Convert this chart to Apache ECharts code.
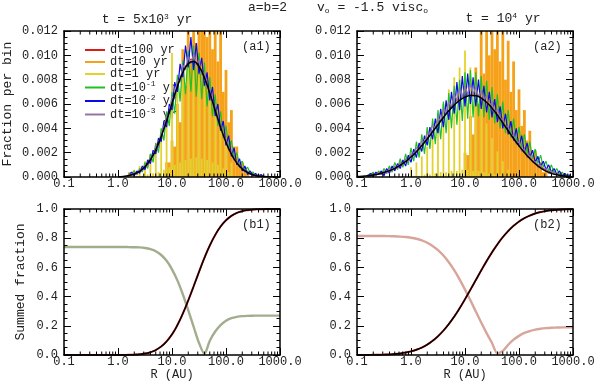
<!DOCTYPE html>
<html lang="en">
<head>
<meta charset="UTF-8">
<title>Fraction per bin</title>
<script src="https://cdn.jsdelivr.net/npm/echarts@6/dist/echarts.min.js"></script>
<style>
  body { margin: 0; background: #fff; }
  #chart { width: 600px; height: 382px; }
</style>
</head>
<body>
<div id="chart"></div>
<script>
// histogram bins are 0.05 dex wide in log10(R), smooth curves sampled every 0.1 dex
const binStep = 0.05;
const curveStep = 0.1;

const seriesNames = ['dt=100 yr', 'dt=10 yr', 'dt=1 yr', 'dt=10^-1 yr', 'dt=10^-2 yr', 'dt=10^-3 yr'];
const seriesColors = ['#e01818', '#f5a21a', '#e4d22c', '#22c022', '#0a0ae6', '#9474a4'];

// ---- panel a1 (t = 5x10^3 yr) ----
const a1LineStart = 0.2;
const a1Red = [0.0001,0.0002,0.0003,0.0003,0.0005,0.0006,0.0009,0.0011,0.0015,0.0018,
  0.0023,0.0028,0.0034,0.0040,0.0047,0.0054,0.0061,0.0068,0.0075,0.0081,
  0.0087,0.0091,0.0094,0.0097,0.0096,0.0094,0.0092,0.0087,0.0083,0.0076,
  0.0070,0.0062,0.0055,0.0048,0.0041,0.0035,0.0029,0.0023,0.0019,0.0015,
  0.0012,0.0009,0.0007,0.0005,0.0004,0.0003,0.0002,0.0001,0.0001,0.0001,0.0000];
const a1Green = [0.0001,0.0003,0.0005,0.0002,0.0007,0.0004,0.0012,0.0007,0.0019,0.0012,
  0.0028,0.0020,0.0040,0.0030,0.0054,0.0042,0.0070,0.0052,0.0084,0.0062,
  0.0096,0.0068,0.0104,0.0070,0.0108,0.0066,0.0102,0.0064,0.0094,0.0058,
  0.0082,0.0050,0.0068,0.0042,0.0054,0.0032,0.0042,0.0024,0.0030,0.0016,
  0.0020,0.0010,0.0013,0.0006,0.0008,0.0003,0.0004,0.0001,0.0002,0.0000,0.0001];
const a1Blue = [0.0002,0.0004,0.0001,0.0005,0.0003,0.0009,0.0006,0.0014,0.0011,0.0022,
  0.0019,0.0032,0.0029,0.0046,0.0041,0.0060,0.0055,0.0078,0.0070,0.0093,
  0.0082,0.0108,0.0090,0.0115,0.0088,0.0110,0.0085,0.0098,0.0075,0.0086,
  0.0063,0.0074,0.0050,0.0060,0.0038,0.0046,0.0026,0.0034,0.0017,0.0024,
  0.0010,0.0015,0.0005,0.0009,0.0002,0.0005,0.0001,0.0003,0.0000,0.0002,0.0000];
const a1Purple = [0.0003,0.0001,0.0004,0.0002,0.0006,0.0005,0.0010,0.0009,0.0016,0.0017,
  0.0026,0.0024,0.0036,0.0041,0.0050,0.0052,0.0066,0.0064,0.0080,0.0078,
  0.0092,0.0088,0.0099,0.0093,0.0101,0.0092,0.0096,0.0084,0.0086,0.0073,
  0.0072,0.0059,0.0058,0.0046,0.0043,0.0033,0.0031,0.0022,0.0021,0.0014,
  0.0013,0.0008,0.0008,0.0004,0.0005,0.0002,0.0003,0.0001,0.0002,0.0000,0.0001];
const a1YellowStart = 0.2;
const a1Yellow = [0.0004,0.0000,0.0006,0.0001,0.0009,0.0001,0.0013,0.0002,0.0019,0.0003,
  0.0027,0.0004,0.0036,0.0006,0.0046,0.0008,0.0102,0.0010,0.0074,0.0012,
  0.0082,0.0014,0.0104,0.0015,0.0087,0.0016,0.0084,0.0015,0.0074,0.0014,
  0.0066,0.0012,0.0052,0.0010,0.0040,0.0007,0.0026,0.0004,0.0012];
const a1OrangeStart = 0.9;
const a1Orange = [0.0012,0.0012,0.0030,0.0025,0.0060,0.0045,0.0105,0.0075,0.0140,0.0095,
  0.0170,0.0110,0.0185,0.0120,0.0190,0.0115,0.0180,0.0105,0.0160,0.0095,
  0.0140,0.0070,0.0088,0.0045,0.0055,0.0025,0.0025,0.0012,0.0012,0.0005,0.0004];
const a1CurveStart = 0.0;
const a1Model = [0.00002,0.00005,0.00012,0.00025,0.00047,0.00085,0.00142,0.00224,0.00332,0.00462,
  0.00605,0.00744,0.00859,0.00931,0.00949,0.00908,0.00817,0.0069,0.00548,0.00408,
  0.00286,0.00188,0.00116,0.00067,0.00037,0.00018,0.00009,0.00004,0.00002,0.00001,0];

// ---- panel a2 (t = 10^4 yr) ----
const a2LineStart = -0.8;
const a2Red = [0.0002,0.0001,0.0002,0.0002,0.0003,0.0003,0.0004,0.0004,0.0005,0.0006,
  0.0007,0.0008,0.0010,0.0011,0.0013,0.0015,0.0017,0.0019,0.0021,0.0024,
  0.0026,0.0029,0.0032,0.0035,0.0038,0.0041,0.0044,0.0047,0.0050,0.0053,
  0.0056,0.0058,0.0061,0.0063,0.0065,0.0066,0.0067,0.0068,0.0069,0.0068,
  0.0068,0.0067,0.0066,0.0064,0.0062,0.0060,0.0057,0.0054,0.0051,0.0048,
  0.0045,0.0041,0.0038,0.0035,0.0032,0.0029,0.0026,0.0023,0.0020,0.0018,
  0.0016,0.0014,0.0012,0.0010,0.0009,0.0007,0.0006,0.0005,0.0004,0.0004,
  0.0003,0.0002,0.0002,0.0001,0.0001,0.0001];
const a2Green = [0.0000,0.0002,0.0004,0.0001,0.0005,0.0002,0.0007,0.0003,0.0009,0.0004,
  0.0012,0.0006,0.0015,0.0008,0.0019,0.0010,0.0024,0.0013,0.0029,0.0016,
  0.0035,0.0019,0.0041,0.0023,0.0048,0.0027,0.0055,0.0031,0.0062,0.0036,
  0.0069,0.0040,0.0075,0.0043,0.0080,0.0046,0.0086,0.0048,0.0088,0.0049,
  0.0086,0.0050,0.0083,0.0049,0.0079,0.0047,0.0074,0.0044,0.0068,0.0040,
  0.0062,0.0036,0.0055,0.0032,0.0048,0.0028,0.0041,0.0024,0.0035,0.0019,
  0.0029,0.0015,0.0023,0.0011,0.0018,0.0008,0.0013,0.0005,0.0010,0.0003,
  0.0007,0.0002,0.0004,0.0001,0.0002,0.0000];
const a2Blue = [0.0001,0.0003,0.0000,0.0004,0.0002,0.0005,0.0001,0.0007,0.0003,0.0009,
  0.0005,0.0011,0.0007,0.0014,0.0009,0.0018,0.0012,0.0023,0.0016,0.0028,
  0.0021,0.0034,0.0026,0.0041,0.0031,0.0048,0.0036,0.0056,0.0041,0.0063,
  0.0047,0.0070,0.0052,0.0078,0.0055,0.0083,0.0058,0.0085,0.0060,0.0082,
  0.0058,0.0080,0.0056,0.0075,0.0053,0.0070,0.0049,0.0064,0.0045,0.0058,
  0.0040,0.0052,0.0035,0.0046,0.0030,0.0040,0.0025,0.0034,0.0020,0.0028,
  0.0016,0.0022,0.0012,0.0017,0.0009,0.0013,0.0006,0.0010,0.0004,0.0007,
  0.0002,0.0005,0.0001,0.0003,0.0000,0.0002];
const a2Purple = [0.0002,0.0000,0.0003,0.0001,0.0004,0.0002,0.0005,0.0003,0.0007,0.0005,
  0.0009,0.0007,0.0012,0.0010,0.0015,0.0013,0.0019,0.0018,0.0024,0.0022,
  0.0030,0.0028,0.0036,0.0035,0.0043,0.0040,0.0049,0.0046,0.0056,0.0052,
  0.0062,0.0058,0.0068,0.0063,0.0072,0.0066,0.0075,0.0068,0.0076,0.0068,
  0.0074,0.0066,0.0071,0.0063,0.0067,0.0058,0.0062,0.0052,0.0056,0.0046,
  0.0049,0.0040,0.0042,0.0033,0.0035,0.0027,0.0029,0.0021,0.0023,0.0016,
  0.0018,0.0012,0.0013,0.0008,0.0010,0.0006,0.0007,0.0003,0.0005,0.0002,
  0.0004,0.0001,0.0002,0.0000,0.0001,0.0000];
const a2YellowStart = 0.0;
const a2Yellow = [0.0008,0.0001,0.0012,0.0001,0.0017,0.0002,0.0025,0.0002,0.0036,0.0003,
  0.0048,0.0004,0.0060,0.0004,0.0072,0.0005,0.0082,0.0005,0.0090,0.0006,
  0.0104,0.0006,0.0090,0.0005,0.0075,0.0005,0.0058,0.0004,0.0044,0.0003,
  0.0032,0.0002,0.0021,0.0002,0.0013,0.0001,0.0006];
const a2OrangeStart = 1.0;
const a2Orange = [0.0020,0.0018,0.0050,0.0035,0.0090,0.0060,0.0130,0.0085,0.0160,0.0100,
  0.0180,0.0105,0.0170,0.0095,0.0135,0.0080,0.0112,0.0070,0.0095,0.0055,
  0.0072,0.0042,0.0055,0.0030,0.0038,0.0018,0.0022,0.0010,0.0012,0.0004,0.0005];
const a2CurveStart = -1.0;
const a2Model = [0.00005,0.00007,0.00011,0.00017,0.00025,0.00037,0.00052,0.00071,0.00096,0.00127,
  0.00164,0.00208,0.00258,0.00312,0.00371,0.0043,0.00489,0.00544,0.00591,0.0063,
  0.00656,0.00669,0.00667,0.00648,0.00614,0.00566,0.00509,0.00445,0.0038,0.00316,
  0.00256,0.00202,0.00152,0.0011,0.00075,0.00048,0.0003,0.00018,0.0001,0.00005,0.00003];

// ---- panels b1 / b2 (summed fractions), log10(R) from -1 to 3 ----
const bCurveStart = -1.0;
const b1Model = [0,0,0,0,0,0,0,0,0,0,
  0.0002,0.0005,0.001,0.0025,0.005,0.010,0.019,0.034,0.058,0.093,
  0.141,0.205,0.283,0.373,0.470,0.569,0.665,0.750,0.822,0.880,
  0.923,0.953,0.973,0.985,0.992,0.996,0.998,0.999,1,1,1];
const b1Summed = [0.74,0.74,0.74,0.74,0.74,0.74,0.74,0.74,0.74,0.74,
  0.74,0.74,0.739,0.738,0.737,0.733,0.725,0.711,0.685,0.645,
  0.587,0.511,0.416,0.308,0.194,0.083,0.008,0.098,0.161,0.205,
  0.235,0.252,0.261,0.266,0.268,0.269,0.27,0.27,0.27,0.27,0.27];
const b2Model = [0.0001,0.0003,0.0005,0.0009,0.0015,0.0026,0.004,0.0068,0.011,0.0166,
  0.025,0.036,0.051,0.071,0.097,0.129,0.167,0.212,0.263,0.320,
  0.382,0.447,0.513,0.579,0.643,0.703,0.758,0.807,0.849,0.885,
  0.914,0.937,0.955,0.969,0.979,0.986,0.991,0.994,0.9965,0.998,0.999];
const b2Summed = [0.815,0.815,0.815,0.815,0.815,0.815,0.814,0.813,0.811,0.808,
  0.803,0.796,0.785,0.769,0.747,0.718,0.681,0.635,0.581,0.518,
  0.448,0.375,0.298,0.222,0.150,0.082,0.012,0.028,0.070,0.105,
  0.131,0.151,0.164,0.174,0.180,0.184,0.187,0.188,0.189,0.19,0.19];

// minor ticks of the log axes (2..9 in every decade)
const logMinorTicks = [];
for (const d of [0.1, 1, 10, 100]) {
  for (let k = 2; k <= 9; k++) logMinorTicks.push(+(k * d).toPrecision(3));
}

const font = 'Liberation Mono';
const ink = '#222';

function toPairs(startLog, step, vals) {
  return vals.map((v, i) => [Math.pow(10, startLog + i * step), v]);
}

const grids = [
  { left: 64, top: 31, width: 216, height: 146 },
  { left: 357, top: 31, width: 216, height: 146 },
  { left: 64, top: 209, width: 216, height: 146 },
  { left: 357, top: 209, width: 216, height: 146 }
];

const xAxes = [];
const yAxes = [];
[false, true].forEach(mirror => {
  grids.forEach((g, i) => {
    xAxes.push({
      type: 'log', logBase: 10, gridIndex: i, min: 0.1, max: 1000,
      position: mirror ? 'top' : 'bottom', z: 10,
      axisLine: { onZero: false, lineStyle: { color: '#000', width: 1.5 } },
      axisTick: { inside: true, length: 7, lineStyle: { color: '#000' } },
      axisLabel: mirror ? { show: false } : {
        margin: 1, fontFamily: font, fontSize: 12, color: ink,
        formatter: v => v.toFixed(1)
      },
      splitLine: { show: false },
      name: (!mirror && i >= 2) ? 'R (AU)' : '',
      nameLocation: 'middle', nameGap: 14,
      nameTextStyle: { fontFamily: font, fontSize: 12, color: ink }
    });
    const isHist = i < 2;
    yAxes.push({
      type: 'value', gridIndex: i, min: 0, max: isHist ? 0.012 : 1, interval: isHist ? 0.002 : 0.2,
      position: mirror ? 'right' : 'left', z: 10,
      axisLine: { show: true, onZero: false, lineStyle: { color: '#000', width: 1.5 } },
      axisTick: { show: true, inside: true, length: 7, lineStyle: { color: '#000' } },
      minorTick: { show: true, splitNumber: 4, length: 3.5, lineStyle: { color: '#000' } },
      axisLabel: mirror ? { show: false } : {
        margin: 6, fontFamily: font, fontSize: 12, color: ink,
        formatter: v => v.toFixed(isHist ? 3 : 1)
      },
      splitLine: { show: false },
      name: mirror ? '' : (i === 0 ? 'Fraction per bin' : (i === 2 ? 'Summed fraction' : '')),
      nameLocation: 'middle', nameGap: i === 0 ? 50 : 37,
      nameTextStyle: { fontFamily: font, fontSize: 13, color: ink }
    });
  });
});

function lineSeries(name, color, grid, data, z, extra) {
  return Object.assign({
    name: name, type: 'line', xAxisIndex: grid, yAxisIndex: grid, data: data,
    showSymbol: false, symbol: 'none', z: z, clip: true,
    itemStyle: { color: color },
    lineStyle: { color: color, width: 1.2 }
  }, extra || {});
}

// one filled bar per histogram bin, cut at the top of the plot
function combSeries(name, color, grid, data, z, barW) {
  return {
    name: name, type: 'custom', xAxisIndex: grid, yAxisIndex: grid, data: data, z: z,
    itemStyle: { color: color },
    encode: { x: 0, y: 1 },
    renderItem: (params, api) => {
      const top = api.coord([api.value(0), api.value(1)]);
      const base = api.coord([api.value(0), 0]);
      const cs = params.coordSys;
      const y0 = Math.max(top[1], cs.y);
      return { type: 'rect', shape: { x: top[0] - barW / 2, y: y0, width: barW, height: base[1] - y0 }, style: { fill: color } };
    }
  };
}

function minorTickSeries(grid) {
  return {
    type: 'custom', xAxisIndex: grid, yAxisIndex: grid, silent: true, z: 12,
    data: logMinorTicks.map(r => [r, 0]),
    encode: { x: 0, y: 1 },
    renderItem: (params, api) => {
      const x = api.coord([api.value(0), 0])[0];
      const cs = params.coordSys;
      const st = { stroke: '#000', lineWidth: 1 };
      return {
        type: 'group', children: [
          { type: 'line', shape: { x1: x, y1: cs.y + cs.height, x2: x, y2: cs.y + cs.height - 3.5 }, style: st },
          { type: 'line', shape: { x1: x, y1: cs.y, x2: x, y2: cs.y + 3.5 }, style: st }
        ]
      };
    }
  };
}

const histPanels = [
  { grid: 0, lineStart: a1LineStart, red: a1Red, green: a1Green, blue: a1Blue, purple: a1Purple,
    yStart: a1YellowStart, yellow: a1Yellow, oStart: a1OrangeStart, orange: a1Orange,
    cStart: a1CurveStart, model: a1Model },
  { grid: 1, lineStart: a2LineStart, red: a2Red, green: a2Green, blue: a2Blue, purple: a2Purple,
    yStart: a2YellowStart, yellow: a2Yellow, oStart: a2OrangeStart, orange: a2Orange,
    cStart: a2CurveStart, model: a2Model }
];

const series = [];
histPanels.forEach(p => {
  series.push(lineSeries(seriesNames[0], seriesColors[0], p.grid, toPairs(p.lineStart, binStep, p.red), 2));
  series.push(combSeries(seriesNames[1], seriesColors[1], p.grid, toPairs(p.oStart, binStep, p.orange), 3, 2.8));
  series.push(combSeries(seriesNames[2], seriesColors[2], p.grid, toPairs(p.yStart, binStep, p.yellow), 4, 1.8));
  series.push(lineSeries(seriesNames[3], seriesColors[3], p.grid, toPairs(p.lineStart, binStep, p.green), 5));
  series.push(lineSeries(seriesNames[4], seriesColors[4], p.grid, toPairs(p.lineStart, binStep, p.blue), 6));
  series.push(lineSeries(seriesNames[5], seriesColors[5], p.grid, toPairs(p.lineStart, binStep, p.purple), 7));
  series.push(lineSeries('model', '#000', p.grid, toPairs(p.cStart, curveStep, p.model), 8,
    { smooth: true, lineStyle: { color: '#000', width: 1.5 } }));
});

[[2, b1Model, b1Summed, '#a2ad8e'], [3, b2Model, b2Summed, '#d8a59a']].forEach(([g, model, summed, col]) => {
  series.push(lineSeries('summed', col, g, toPairs(bCurveStart, curveStep, summed), 5,
    { smooth: 0.3, lineStyle: { color: col, width: 2.4 } }));
  series.push(lineSeries('model red', '#c02020', g, toPairs(bCurveStart, curveStep, model), 6,
    { smooth: true, lineStyle: { color: '#c02020', width: 2.0 } }));
  series.push(lineSeries('model', '#000', g, toPairs(bCurveStart, curveStep, model), 7,
    { smooth: true, lineStyle: { color: '#000', width: 1.4 } }));
});

grids.forEach((g, i) => series.push(minorTickSeries(i)));

const supStyle = { fontFamily: font, fontSize: 8, padding: [0, 0, 7, 0], color: ink };
const subStyle = { fontFamily: font, fontSize: 8, padding: [6, 0, 0, 0], color: ink };

function label(x, y, text, align, size) {
  return {
    type: 'text', x: x, y: y, z: 20,
    style: {
      text: text, fontFamily: font, fontSize: size || 13, fill: ink,
      align: align || 'left', verticalAlign: 'middle',
      rich: { sup: supStyle, sub: subStyle }
    }
  };
}

const chart = echarts.init(document.getElementById('chart'));
chart.setOption({
  animation: false,
  grid: grids,
  xAxis: xAxes,
  yAxis: yAxes,
  legend: {
    data: seriesNames, orient: 'vertical', left: 80, top: 39,
    itemWidth: 20, itemHeight: 2, icon: 'rect', itemGap: 0, selectedMode: false,
    textStyle: { fontFamily: font, fontSize: 12, color: ink, lineHeight: 12, rich: { sup: supStyle } },
    formatter: n => n.replace(/\^(-?\d+)/, '{sup|$1}')
  },
  graphic: [
    label(147, 20, 't = 5x10{sup|3} yr', 'center'),
    label(248, 8, 'a=b=2'),
    label(317, 8, 'v{sub|o} = -1.5 visc{sub|o}'),
    label(503, 19, 't = 10{sup|4} yr', 'center'),
    label(242, 47, '(a1)', 'left', 12),
    label(533, 47, '(a2)', 'left', 12),
    label(242, 225, '(b1)', 'left', 12),
    label(533, 225, '(b2)', 'left', 12)
  ],
  series: series
});
</script>
</body>
</html>
